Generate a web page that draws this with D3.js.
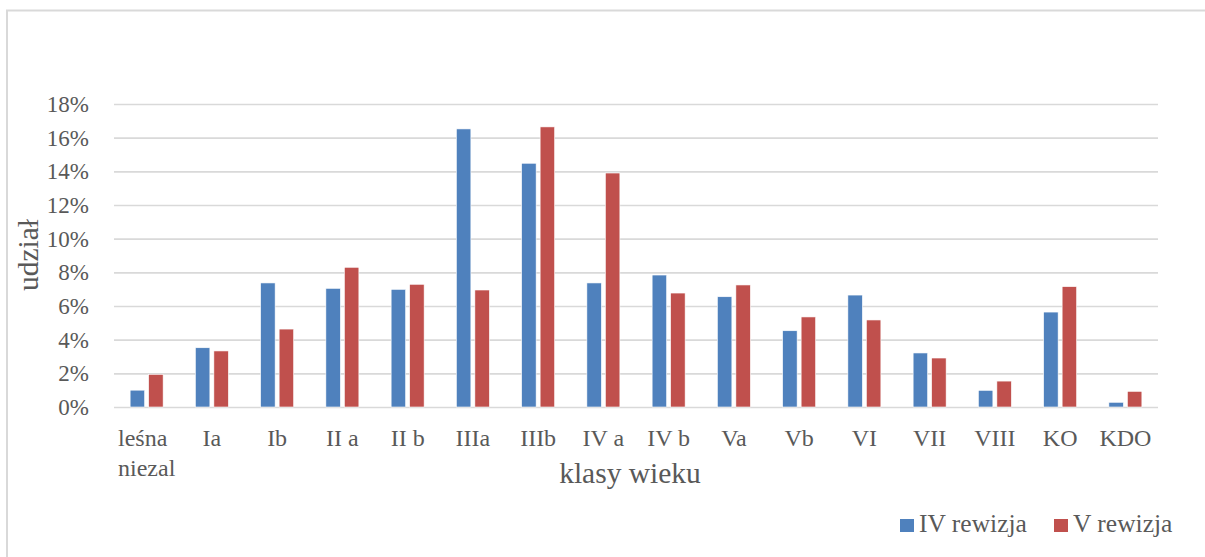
<!DOCTYPE html>
<html>
<head>
<meta charset="utf-8">
<script src="https://cdn.jsdelivr.net/npm/d3@7"></script>
<style>
  body { margin: 0; background: #fff; }
  text { font-family: "Liberation Serif", "Times New Roman", serif; fill: #595959; }
</style>
</head>
<body>
<div id="chart"></div>
<script>
const categories = ['leśna\nniezal', 'Ia', 'Ib', 'II a', 'II b', 'IIIa', 'IIIb', 'IV a', 'IV b', 'Va', 'Vb', 'VI', 'VII', 'VIII', 'KO', 'KDO'];
const rev4 = [1.0, 3.52, 7.37, 7.05, 6.99, 16.52, 14.48, 7.37, 7.84, 6.55, 4.53, 6.65, 3.21, 0.99, 5.64, 0.28];
const rev5 = [1.94, 3.33, 4.63, 8.30, 7.29, 6.95, 16.64, 13.90, 6.77, 7.25, 5.35, 5.17, 2.91, 1.54, 7.15, 0.93];
const seriesNames = ['IV rewizja', 'V rewizja'];
const yTicks = [0, 2, 4, 6, 8, 10, 12, 14, 16, 18];

const w = 1205, h = 557;
const plotLeft = 114, plotRight = 1158, plotTop = 104, plotBottom = 407;
const colors = ['#4F81BD', '#C0504D'];

const svg = d3.select('#chart').append('svg')
    .attr('width', w)
    .attr('height', h);

// chart border (only top and left show in the frame)
svg.append('rect')
    .attr('x', 7).attr('y', 10.5)
    .attr('width', 1210).attr('height', 560)
    .attr('fill', 'none')
    .attr('stroke', '#d9d9d9')
    .attr('stroke-width', 2);

const xScale = d3.scaleBand()
    .domain(categories)
    .range([plotLeft, plotRight]);
const yScale = d3.scaleLinear()
    .domain([0, 18])
    .range([plotBottom, plotTop]);

// grid + y labels
const yAxis = svg.append('g')
    .attr('transform', `translate(${plotLeft}, 0)`)
    .call(d3.axisLeft(yScale)
        .tickValues(yTicks)
        .tickSize(-(plotRight - plotLeft))
        .tickPadding(25)
        .tickFormat(d => d + '%'));
yAxis.select('.domain').remove();
yAxis.selectAll('line').attr('stroke', '#d9d9d9').attr('stroke-width', 1.7);
yAxis.selectAll('text')
    .attr('font-size', 23)
    .attr('fill', '#595959')
    .style('font-family', '"Liberation Serif", serif');

const barW = 14.5, gap = 4;
const series = [rev4, rev5];
series.forEach((vals, si) => {
    svg.append('g').selectAll('rect')
        .data(vals)
        .enter()
        .append('rect')
        .attr('x', (d, i) => xScale(categories[i]) + xScale.bandwidth() / 2 + (si === 0 ? -gap / 2 - barW : gap / 2))
        .attr('y', d => yScale(d))
        .attr('width', barW)
        .attr('height', d => yScale(0) - yScale(d))
        .attr('fill', colors[si])
        .attr('stroke', '#fff')
        .attr('stroke-width', 0.6);
});

// category labels
const xAxis = svg.append('g')
    .attr('transform', `translate(0, ${plotBottom})`)
    .call(d3.axisBottom(xScale).tickSize(0).tickFormat(''));
xAxis.select('.domain').remove();
xAxis.selectAll('.tick').each(function (d) {
    const multi = d.includes('\n');
    const lx = multi ? -xScale.bandwidth() / 2 + 4 : 0;
    const t = d3.select(this).append('text')
        .attr('text-anchor', multi ? 'start' : 'middle')
        .attr('font-size', 24)
        .style('font-family', '"Liberation Serif", serif')
        .attr('fill', '#595959');
    d.split('\n').forEach((line, i) => {
        t.append('tspan')
            .attr('x', lx)
            .attr('y', 39 + i * 30)
            .text(line);
    });
});

// axis titles
svg.append('text')
    .attr('x', 630)
    .attr('y', 483)
    .attr('text-anchor', 'middle')
    .attr('font-size', 29.5)
    .text('klasy wieku');

svg.append('text')
    .attr('transform', 'translate(38, 255) rotate(-90)')
    .attr('text-anchor', 'middle')
    .attr('font-size', 29.5)
    .text('udział');

// legend
const legendX = [900, 1054];
seriesNames.forEach((name, i) => {
    svg.append('rect')
        .attr('x', legendX[i]).attr('y', 519)
        .attr('width', 14).attr('height', 13)
        .attr('fill', colors[i]);
    svg.append('text')
        .attr('x', legendX[i] + 19).attr('y', 532)
        .attr('font-size', 25.5)
        .text(name);
});
</script>
</body>
</html>
